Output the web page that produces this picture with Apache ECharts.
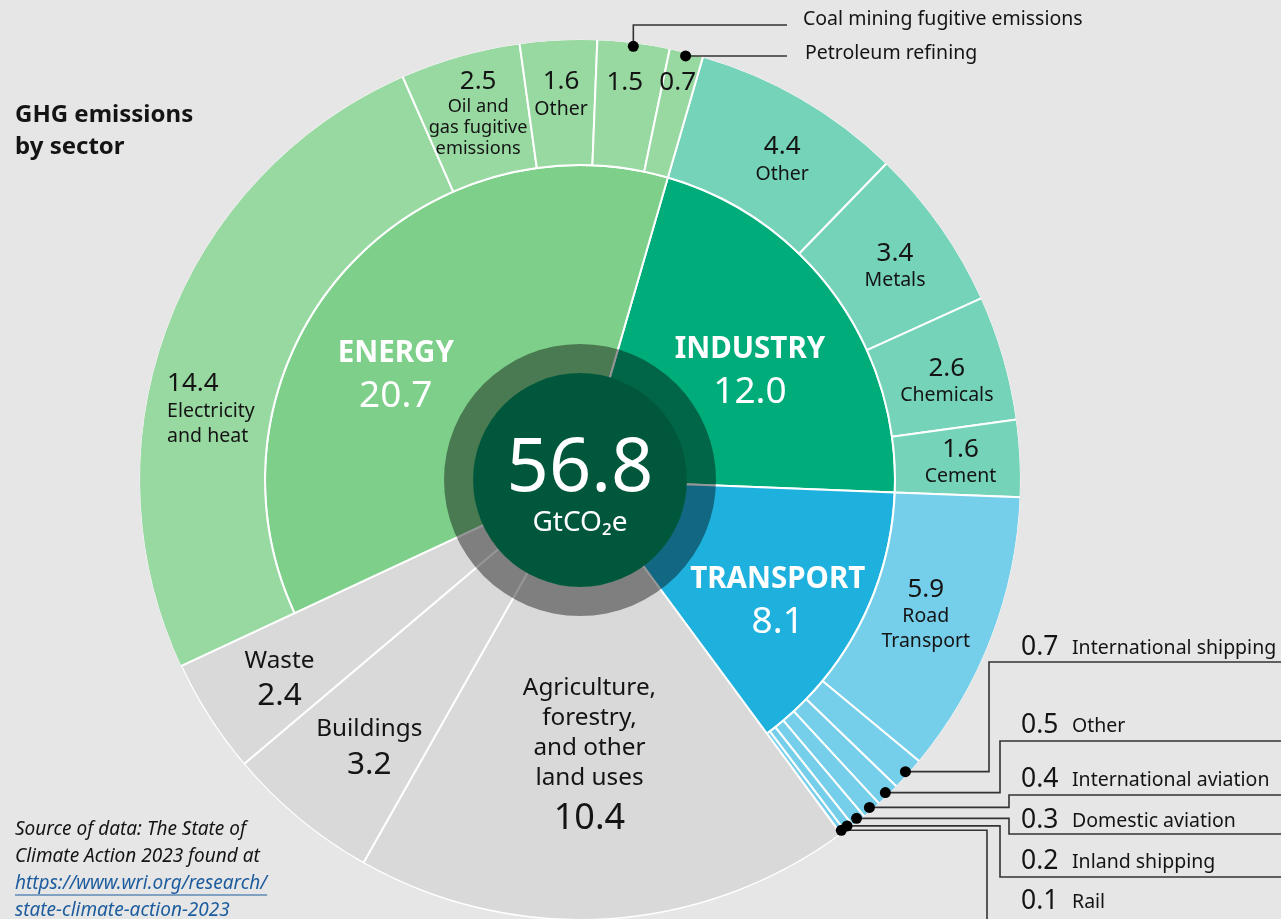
<!DOCTYPE html>
<html>
<head>
<meta charset="utf-8">
<script src="https://cdn.jsdelivr.net/npm/echarts@6/dist/echarts.min.js"></script>
<style>
  html, body { margin: 0; padding: 0; background: #e6e6e6; }
  #chart { width: 1281px; height: 919px; }
</style>
</head>
<body>
<div id="chart"></div>
<script>
// ---- Data: global GHG emissions by sector, GtCO2e ----
// Sectors listed clockwise, starting at the Energy/Industry boundary.
const sectorNames = ['INDUSTRY', 'TRANSPORT', 'Agriculture,\nforestry,\nand other\nland uses', 'Buildings', 'Waste', 'ENERGY'];
const sectorValues = [12.0, 8.1, 10.4, 3.2, 2.4, 20.7];

const industryNames = ['Other', 'Metals', 'Chemicals', 'Cement'];
const industryValues = [4.4, 3.4, 2.6, 1.6];

const transportNames = ['Road\nTransport', 'International shipping', 'Other', 'International aviation', 'Domestic aviation', 'Inland shipping', 'Rail'];
const transportValues = [5.9, 0.7, 0.5, 0.4, 0.3, 0.2, 0.1];

const energyNames = ['Electricity\nand heat', 'Oil and\ngas fugitive\nemissions', 'Other', 'Coal mining fugitive emissions', 'Petroleum refining'];
const energyValues = [14.4, 2.5, 1.6, 1.5, 0.7];

const unitLabel = 'GtCO\u2082e';
const titleText = 'GHG emissions\nby sector';
const sourceLines = ['Source of data: The State of', 'Climate Action 2023 found at'];
const sourceLinkLines = ['https://www.wri.org/research/', 'state-climate-action-2023'];

// ---- Layout ----
const W = 1281;
const CX = 580, CY = 480;
const R_CORE = 107, R_MID = 315, R_OUT = 440;
const START_DEG = 16.2;               // clockwise from 12 o'clock
const BG = '#e6e6e6';
const GREY = '#d9d9d9';
const INK = '#141414';
const LINE = '#333333';
const FONT = '"Noto Sans", "Open Sans", sans-serif';

const sectorColors = ['#00ad7a', '#1fb1de', GREY, GREY, GREY, '#7dcf8a'];
const children = {
  0: { names: industryNames, values: industryValues, color: '#74d3b8' },
  1: { names: transportNames, values: transportValues, color: '#76cfea' },
  5: { names: energyNames, values: energyValues, color: '#98d9a2' }
};

const total = sectorValues.reduce((a, b) => a + b, 0);
const degPer = 360 / total;
const fmt = v => v.toFixed(1);

function midAngles(values) {
  let acc = START_DEG;
  return values.map(v => { const m = acc + v * degPer / 2; acc += v * degPer; return m; });
}
function polar(deg, r) {
  const a = deg * Math.PI / 180;
  return [CX + r * Math.sin(a), CY - r * Math.cos(a)];
}

// label placement: [radius, angle nudge in degrees, vertical nudge px]
const innerSpots = [[204, 2.2, 5], [231, 3.2, 2.5], null, null, null, [214, -10, 5]];
const greySpots = [null, null, [279, 1.5, 0], [340, -1.35, 3], [360, -0.8, 3], null];
const childSpots = {
  0: [[379, 2.1, 0], [381, 0.9, 0], [380, 1.0, 0], [381, 0.1, 0]],
  1: [[371, 0.3, 0], null, null, null, null, null, null],
  5: [[376, -9.6, 1], [381, 0.3, 0], [386, 0, 0], [401, -0.6, 1], [410, -0.2, 1]]
};
// children whose names go to a leader line instead of inside the ring
const numberOnly = { 5: [3, 4] };

const transparent = { color: 'rgba(0,0,0,0)', borderWidth: 0 };

function richLines(text, tag) {
  return text.split('\n').map(s => '{' + tag + '|' + s + '}').join('\n');
}

// ---- Grey sectors spanning full depth ----
const greyData = sectorNames.map((n, i) => {
  const isGrey = !children[i];
  if (!isGrey) return { name: n, value: sectorValues[i], itemStyle: transparent, label: { show: false } };
  const big = sectorValues[i] >= 10;
  return {
    name: n, value: sectorValues[i],
    itemStyle: { color: sectorColors[i] },
    label: { show: true, formatter: richLines(n, 'n') + '\n{' + (big ? 'vb' : 'v') + '|' + fmt(sectorValues[i]) + '}' }
  };
});

// ---- Inner ring: main sectors ----
const innerData = sectorNames.map((n, i) => {
  if (!children[i]) return { name: n, value: sectorValues[i], itemStyle: transparent, label: { show: false } };
  return {
    name: n, value: sectorValues[i],
    itemStyle: { color: sectorColors[i] },
    label: { show: true, formatter: '{n|' + n + '}\n{v|' + fmt(sectorValues[i]) + '}' }
  };
});

// ---- Outer ring: sub-sectors ----
const outerData = [];
const outerSpots = [];
const outerMeta = [];
sectorNames.forEach((n, i) => {
  const c = children[i];
  if (!c) {
    outerData.push({ name: n, value: sectorValues[i], itemStyle: transparent, label: { show: false } });
    outerSpots.push(null);
    outerMeta.push(null);
    return;
  }
  c.names.forEach((cn, j) => {
    const spot = childSpots[i][j];
    const onlyNum = numberOnly[i] && numberOnly[i].includes(j);
    let label = { show: false };
    if (spot) {
      const left = (i === 5 && j === 0);
      const tight = cn.split('\n').length > 2;
      const nTag = left ? 'nl' : (tight ? 'nt' : 'n');
      const vTag = left ? 'vl' : 'v';
      label = {
        show: true,
        formatter: onlyNum ? '{v|' + fmt(c.values[j]) + '}'
          : '{' + vTag + '|' + fmt(c.values[j]) + '}\n' + richLines(cn, nTag)
      };
    }
    outerData.push({ name: cn, value: c.values[j], itemStyle: { color: c.color }, label });
    outerSpots.push(spot);
    outerMeta.push({ sector: i, index: j });
  });
});

const greyMids = midAngles(sectorValues);
const outerMids = midAngles(outerData.map(d => d.value));

function layoutFor(spots, mids) {
  return function (p) {
    const s = spots[p.dataIndex];
    if (!s) return {};
    const [x, y] = polar(mids[p.dataIndex] + s[1], s[0]);
    return { x, y: y + (s[2] || 0), align: 'center', verticalAlign: 'middle' };
  };
}

const baseSeries = {
  type: 'pie',
  center: [CX, CY],
  startAngle: 90 - START_DEG,
  clockwise: true,
  avoidLabelOverlap: false,
  silent: true,
  animation: false,
  emphasis: { disabled: true },
  labelLine: { show: false },
  itemStyle: { borderColor: '#ffffff', borderWidth: 2 }
};

const innerRich = {
  n: { fontFamily: FONT, fontSize: 29.5, fontWeight: 'bold', color: '#fff', lineHeight: 41 },
  v: { fontFamily: FONT, fontSize: 37, color: '#fff', lineHeight: 45 }
};
const outerRich = {
  v: { fontFamily: FONT, fontSize: 26, color: INK, lineHeight: 29 },
  n: { fontFamily: FONT, fontSize: 19.5, color: INK, lineHeight: 25 },
  nt: { fontFamily: FONT, fontSize: 18.2, color: INK, lineHeight: 21 },
  vl: { fontFamily: FONT, fontSize: 26, color: INK, lineHeight: 29, align: 'left' },
  nl: { fontFamily: FONT, fontSize: 19.5, color: INK, lineHeight: 25, align: 'left' }
};
const greyRich = {
  n: { fontFamily: FONT, fontSize: 24.3, color: INK, lineHeight: 30 },
  v: { fontFamily: FONT, fontSize: 31.5, color: INK, lineHeight: 41 },
  vb: { fontFamily: FONT, fontSize: 36, color: INK, lineHeight: 51 }
};

// ---- Leader-line callouts ----
const calloutGraphics = [];
function addCallout(points, dot) {
  calloutGraphics.push({
    type: 'polyline', z: 30, silent: true,
    shape: { points },
    style: { stroke: LINE, lineWidth: 1.6, fill: null }
  });
  calloutGraphics.push({
    type: 'circle', z: 31, silent: true,
    shape: { cx: dot[0], cy: dot[1], r: 5.5 },
    style: { fill: '#000' }
  });
}
function addText(x, y, text, size, extra) {
  calloutGraphics.push({
    type: 'text', z: 31, silent: true, x, y,
    style: Object.assign({ text, fill: INK, font: size + 'px ' + FONT, align: 'left', verticalAlign: 'middle' }, extra || {})
  });
}
const DOT_R = 437;

// transport callouts: [column x, rule y, text y]
const transportCallouts = { 1: [989, 662, 647], 2: [1000, 741, 725], 3: [1009, 795, 779], 4: [1009, 834, 820], 5: [1000, 877, 861], 6: [987, 922, 901] };
// energy callouts above the ring
const energyCallouts = { 3: { ruleY: 25, endX: 787, textX: 803, textY: 19 }, 4: { ruleY: null, endX: 787, textX: 805, textDy: -3 } };

outerMeta.forEach((m, k) => {
  if (!m) return;
  const dot = polar(outerMids[k], DOT_R);
  const val = children[m.sector].values[m.index];
  const name = children[m.sector].names[m.index];
  if (m.sector === 1 && transportCallouts[m.index]) {
    const [colX, ruleY, textY] = transportCallouts[m.index];
    addCallout([dot, [colX, dot[1]], [colX, ruleY], [W, ruleY]], dot);
    addText(1021, textY, fmt(val), 26.5);
    addText(1072, textY + 1, name, 19.5);
  }
  if (m.sector === 5 && energyCallouts[m.index]) {
    const c = energyCallouts[m.index];
    if (c.ruleY !== null) {
      addCallout([dot, [dot[0], c.ruleY], [c.endX, c.ruleY]], dot);
      addText(c.textX, c.textY, name, 19.5);
    } else {
      addCallout([dot, [c.endX, dot[1]]], dot);
      addText(c.textX, dot[1] + c.textDy, name, 19.5);
    }
  }
});

// ---- Source note with underlined link ----
const measureCtx = document.createElement('canvas').getContext('2d');
const SRC_FONT = 'italic 19px ' + FONT;
measureCtx.font = SRC_FONT;
const SRC_X = 15, SRC_Y0 = 830, SRC_LH = 27;
const sourceGraphics = [];
sourceLines.concat(sourceLinkLines).forEach((t, i) => {
  const isLink = i >= sourceLines.length;
  const y = SRC_Y0 + i * SRC_LH;
  sourceGraphics.push({
    type: 'text', z: 31, silent: true, x: SRC_X, y,
    style: { text: t, font: SRC_FONT, fill: isLink ? '#1c5c9e' : INK, align: 'left', verticalAlign: 'middle' }
  });
  if (isLink) {
    const w = measureCtx.measureText(t).width;
    sourceGraphics.push({
      type: 'line', z: 31, silent: true,
      shape: { x1: SRC_X, y1: y + 11, x2: SRC_X + w, y2: y + 11 },
      style: { stroke: '#1c5c9e', lineWidth: 1.2 }
    });
  }
});

const chart = echarts.init(document.getElementById('chart'), null, { renderer: 'canvas' });
chart.setOption({
  backgroundColor: BG,
  animation: false,
  title: {
    text: titleText, left: 10, top: 94,
    textStyle: { fontFamily: FONT, fontSize: 24, fontWeight: 'bold', color: INK, lineHeight: 32 }
  },
  series: [
    Object.assign({}, baseSeries, {
      name: 'sector-full', radius: [R_CORE - 2, R_OUT], data: greyData,
      label: { position: 'inside', rich: greyRich },
      labelLayout: layoutFor(greySpots, greyMids)
    }),
    Object.assign({}, baseSeries, {
      name: 'sector', radius: [R_CORE - 2, R_MID], data: innerData,
      label: { position: 'inside', rich: innerRich },
      labelLayout: layoutFor(innerSpots, greyMids)
    }),
    Object.assign({}, baseSeries, {
      name: 'sub-sector', radius: [R_MID, R_OUT + 1], data: outerData,
      label: { position: 'inside', rich: outerRich },
      labelLayout: layoutFor(outerSpots, outerMids)
    })
  ],
  graphic: [
    // trims the white edge stroke off the outer rim
    { type: 'circle', z: 20, silent: true, shape: { cx: CX, cy: CY, r: R_OUT + 1.5 }, style: { fill: null, stroke: BG, lineWidth: 2.4 } },
    // darkened collar around the total
    { type: 'ring', z: 20, silent: true, shape: { cx: CX, cy: CY, r: 136, r0: R_CORE - 0.5 }, style: { fill: 'rgba(0,0,0,0.41)' } },
    { type: 'circle', z: 21, silent: true, shape: { cx: CX, cy: CY, r: R_CORE }, style: { fill: '#00573b' } },
    { type: 'text', z: 22, silent: true, x: CX, y: 470,
      style: { text: fmt(total), font: '74px ' + FONT, fill: '#fff', align: 'center', verticalAlign: 'middle' } },
    { type: 'text', z: 22, silent: true, x: CX, y: 523,
      style: { text: unitLabel, font: '28px ' + FONT, fill: '#fff', align: 'center', verticalAlign: 'middle' } }
  ].concat(calloutGraphics, sourceGraphics)
});
</script>
</body>
</html>
